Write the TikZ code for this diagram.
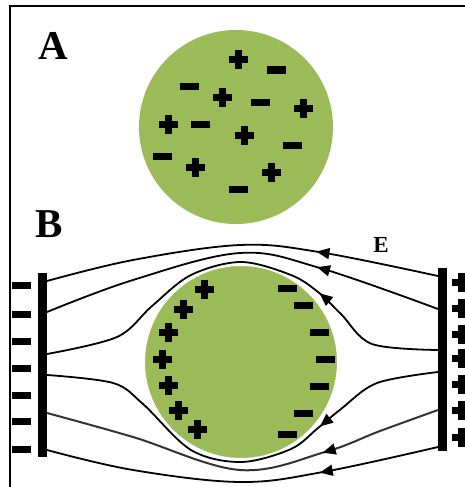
\documentclass[tikz,border=0pt]{standalone}
\usepackage{fontspec}
\setmainfont{Liberation Serif}
\usetikzlibrary{arrows.meta,decorations.markings}
\definecolor{ballgreen}{HTML}{9BBB59}
\tikzset{
  plusq/.pic={\fill (-9.5,-3.5) rectangle (9.5,3.5); \fill (-3.5,-9.5) rectangle (3.5,9.5);},
  minusq/.pic={\fill (-9.5,-3.5) rectangle (9.5,3.5);},
  fieldline/.style={line width=1.8pt, line join=round},
  arrowat/.style={postaction={decorate},
    decoration={markings,mark=at position #1 with {\arrow[black]{Triangle[length=13pt,width=11pt]}}}},
  plate/.style={fill=black},
  ball/.style={fill=ballgreen},
  biglabel/.style={font=\bfseries\fontsize{41}{41}\selectfont, inner sep=0pt},
}
\begin{document}
\begin{tikzpicture}[x=1pt,y=-1pt]
\useasboundingbox (0,0) rectangle (465,487);
\clip (0,0) rectangle (465,487);

% frame
\draw[line width=2pt] (10,487) -- (10,6) -- (466,6);

% ---- part A: neutral sphere ----
\node[biglabel] (labA) at (53,46) {A};
\fill[ball] (236,127) circle (97);
\foreach \x/\y in {238/60, 222/97, 303/108, 168/124, 244/135, 195/167, 271/172}
  \pic at (\x,\y) {plusq};
\foreach \x/\y in {276/70, 189/86, 260/102, 200/124, 292/145, 162/156, 238/189}
  \pic at (\x,\y) {minusq};

% ---- part B: polarised sphere between plates ----
\node[biglabel] (labB) at (49,224) {B};
\node[font=\bfseries\fontsize{23}{23}\selectfont, inner sep=0pt] (labE) at (381,245) {E};

% plates and their charges
\fill[plate] (38,273) rectangle (47,457);
\fill[plate] (438,268) rectangle (447,451);
\foreach \y in {285,314,341,368,395,421,449}
  \pic at (21,\y) {minusq};
\foreach \y in {282,308,334,358,384,410,437}
  \pic at (461,\y) {plusq};

% sphere
\draw[ball, draw=white, line width=2pt] (241,362) circle (97);
\foreach \x/\y in {204/289, 183/309, 168/332, 162/359, 168/385, 178/410, 197/429}
  \pic at (\x,\y) {plusq};
\foreach \x/\y in {287/288, 303/305, 319/332, 325/359, 319/386, 303/413, 287/434}
  \pic at (\x,\y) {minusq};

% field lines, from + plate to - plate
\draw[fieldline, arrowat=124pt] plot[smooth, tension=0.6] coordinates
  {(438,276) (319,252) (240,245) (133,260) (47,281)};
\draw[fieldline, arrowat=128pt] plot[smooth, tension=0.6] coordinates
  {(438,309) (320,268) (240,253) (133,280) (47,312)};
\draw[fieldline, arrowat=140pt] plot[smooth, tension=0.55] coordinates
  {(438,350) (372,344) (341,314) (318,292) (291,275) (241,262) (191,275) (152,306) (117,337) (47,354)};
\draw[fieldline, arrowat=134pt] plot[smooth, tension=0.55] coordinates
  {(438,372) (377,383) (341,409) (318,428) (291,449) (241,462) (191,450) (143,404) (113,383) (47,375)};
\draw[fieldline, line width=2pt, draw=black!80, arrowat=123pt] plot[smooth, tension=0.6] coordinates
  {(438,410) (380,431) (325,452) (240,470) (133,437) (47,413)};
\draw[fieldline, arrowat=121pt] plot[smooth, tension=0.6] coordinates
  {(438,447) (323,472) (240,482) (133,470) (47,450)};
\end{tikzpicture}
\end{document}
